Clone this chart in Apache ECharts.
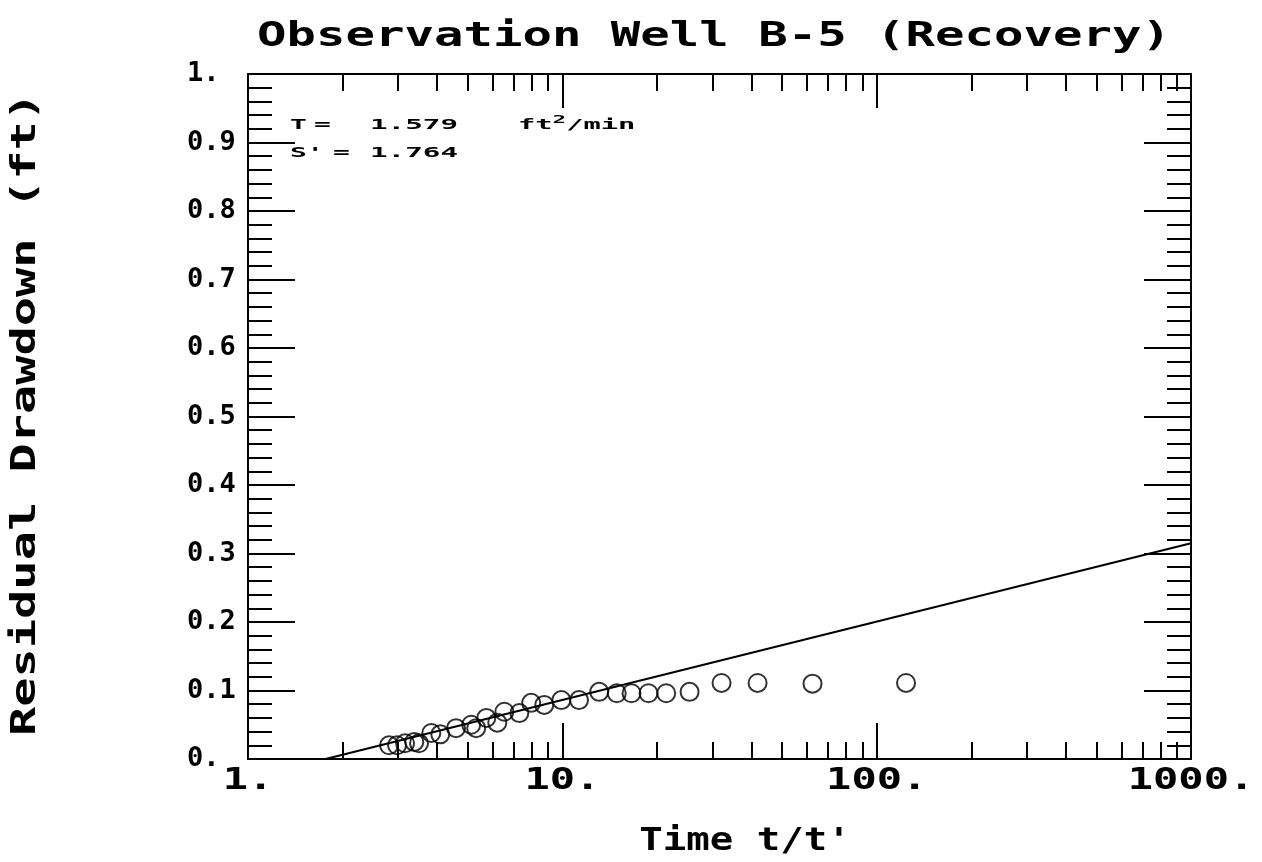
<!DOCTYPE html>
<html>
<head>
<meta charset="utf-8">
<script src="https://cdn.jsdelivr.net/npm/echarts@6/dist/echarts.min.js"></script>
<style>
  html, body { margin: 0; padding: 0; background: #fff; }
  #chart { width: 1262px; height: 862px; }
</style>
</head>
<body>
<div id="chart"></div>
<script>
// ---- text ----
const titleText = 'Observation Well B-5 (Recovery)';
const xAxisTitle = "Time t/t'";
const yAxisTitle = 'Residual Drawdown (ft)';

// ---- axes ----
const xMajorTicks = [1, 10, 100, 1000];
const xTickLabels = ['1.', '10.', '100.', '1000.'];
const xMinorTicks = [2, 3, 4, 5, 6, 7, 8, 9,
                     20, 30, 40, 50, 60, 70, 80, 90,
                     200, 300, 400, 500, 600, 700, 800, 900];
const yTickLabels = ['0.', '0.1', '0.2', '0.3', '0.4', '0.5', '0.6', '0.7', '0.8', '0.9', '1.'];

// ---- observed recovery data: t/t' and residual drawdown (ft) ----
const ratioTT = [2.81, 2.98, 3.16, 3.38, 3.50, 3.83, 4.09, 4.59, 5.13, 5.32,
                 5.73, 6.21, 6.54, 7.30, 7.96, 8.76, 9.93, 11.3, 13.1, 14.9,
                 16.6, 18.8, 21.4, 25.4, 32.1, 41.8, 62.5, 124];
const residual = [0.020, 0.020, 0.023, 0.025, 0.023, 0.038, 0.036, 0.045, 0.050, 0.045,
                  0.060, 0.053, 0.069, 0.067, 0.082, 0.079, 0.086, 0.086, 0.098, 0.096,
                  0.096, 0.096, 0.096, 0.098, 0.111, 0.111, 0.110, 0.111];

// ---- fitted straight line (semi-log) ----
const fitX = [1.764, 1000];
const fitY = [0, 0.315];

// ---- fit results ----
const transmissivity = '1.579';
const storageRatio = '1.764';

const FONT = '"DejaVu Sans Mono", "Liberation Mono", monospace';
const INK = '#000';

function xAxisDef(position, ticks, len, showLine) {
  return {
    type: 'log', logBase: 10, min: 1, max: 1000, position: position,
    axisLine: { show: showLine, lineStyle: { color: INK, width: 2 } },
    axisTick: { show: true, inside: true, length: len, customValues: ticks,
                lineStyle: { color: INK, width: 2 } },
    minorTick: { show: false },
    axisLabel: { show: false },
    splitLine: { show: false }
  };
}

function yAxisDef(position, showLabels) {
  return {
    type: 'value', min: 0, max: 1, interval: 0.1, position: position,
    axisLine: { show: true, lineStyle: { color: INK, width: 2 } },
    axisTick: { show: true, inside: true, length: 47, lineStyle: { color: INK, width: 2 } },
    minorTick: { show: true, splitNumber: 5, length: 24, lineStyle: { color: INK, width: 2 } },
    axisLabel: {
      show: showLabels, inside: false, margin: 61, align: 'left',
      fontFamily: FONT, fontSize: 27, fontWeight: 'bold', color: INK,
      formatter: function (v) { return yTickLabels[Math.round(v * 10)]; }
    },
    splitLine: { show: false }
  };
}

const chart = echarts.init(document.getElementById('chart'), null, { renderer: 'canvas' });

chart.setOption({
  backgroundColor: '#fff',
  animation: false,
  grid: { left: 248, right: 71, top: 74, bottom: 103, containLabel: false },
  xAxis: [
    xAxisDef('bottom', xMajorTicks, 36, true),
    xAxisDef('bottom', xMinorTicks, 17, false),
    xAxisDef('top', xMajorTicks, 34, true),
    xAxisDef('top', xMinorTicks, 17, false)
  ],
  yAxis: [
    yAxisDef('left', true),
    yAxisDef('right', false)
  ],
  series: [
    {
      type: 'line', xAxisIndex: 0, yAxisIndex: 0,
      data: fitX.map(function (x, i) { return [x, fitY[i]]; }),
      showSymbol: false, symbol: 'none',
      lineStyle: { color: INK, width: 2 },
      z: 2
    },
    {
      type: 'scatter', xAxisIndex: 0, yAxisIndex: 0,
      data: ratioTT.map(function (x, i) { return [x, residual[i]]; }),
      symbol: 'circle', symbolSize: 18,
      itemStyle: { color: 'rgba(0,0,0,0)', borderColor: INK, borderWidth: 2 },
      z: 3
    }
  ]
});

// Text drawn with horizontal stretch to give the wide plotter lettering
function stretched(text, x, y, size, sx, opts) {
  opts = opts || {};
  return {
    type: 'text', x: x, y: y, scaleX: sx, rotation: opts.rotation || 0, z: 10,
    style: {
      text: text, rich: opts.rich,
      font: 'bold ' + size + 'px ' + FONT, fill: INK,
      align: opts.align || 'center', verticalAlign: 'middle',
      textAlign: opts.align || 'center', textVerticalAlign: 'middle'
    }
  };
}

const elements = [];
elements.push(stretched(titleText, 714, 37, 34, 1.44));
elements.push(stretched(xAxisTitle, 745, 842, 32, 1.22));
elements.push(stretched(yAxisTitle, 26, 414, 34, 1.43, { rotation: Math.PI / 2 }));

// x tick labels placed through the axis scale
xMajorTicks.forEach(function (v, i) {
  const px = chart.convertToPixel({ xAxisIndex: 0 }, v);
  elements.push(stretched(xTickLabels[i], px, 781, 30, 1.4));
});

// fit annotations
elements.push(stretched('T', 290, 125, 14, 2.0, { align: 'left' }));
elements.push(stretched('=', 314, 125, 14, 2.0, { align: 'left' }));
elements.push(stretched(transmissivity, 370, 125, 14, 2.09, { align: 'left' }));
elements.push(stretched('ft{s|2}/min', 518, 125, 14, 2.05, {
  align: 'left',
  rich: { s: { font: 'bold 11px ' + FONT, fill: INK, verticalAlign: 'bottom', padding: [0, 0, 10, 0] } }
}));
elements.push(stretched("S'", 290, 153, 14, 2.0, { align: 'left' }));
elements.push(stretched('=', 333, 153, 14, 2.0, { align: 'left' }));
elements.push(stretched(storageRatio, 370, 153, 14, 2.09, { align: 'left' }));

chart.setOption({ graphic: { elements: elements } });
</script>
</body>
</html>
